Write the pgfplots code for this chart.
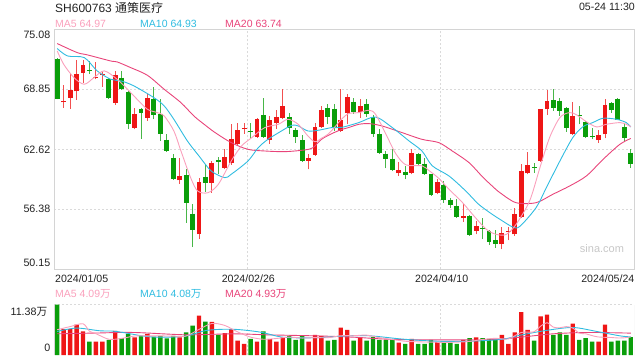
\documentclass[border=0pt]{standalone}
\usepackage{fontspec}
\setmainfont{Liberation Sans}
\newfontfamily\cjk{Noto Sans CJK SC}
\usepackage{pgfplots}
\pgfplotsset{compat=1.18}
\usetikzlibrary{calc}
\definecolor{cred}{RGB}{238,22,22}
\definecolor{cgreen}{RGB}{10,158,10}
\definecolor{ma5}{RGB}{250,160,188}
\definecolor{ma10}{RGB}{48,188,224}
\definecolor{ma20}{RGB}{232,68,122}
\definecolor{gridc}{RGB}{218,218,218}
\definecolor{borderc}{RGB}{212,212,212}
\definecolor{txt}{RGB}{34,34,34}
\begin{document}
\begin{tikzpicture}[x=1pt,y=1pt]
% ---------------- price panel ----------------
\begin{axis}[name=main, at={(0,0)}, anchor=south west, scale only axis,
  width=580pt, height=240pt,
  xmin=-0.5, xmax=89.5, ymin=50.15, ymax=75.08,
  axis line style={borderc, line width=0.8pt},
  xtick={29.5,59.5}, xticklabels={},
  ytick={56.38,62.62,68.85}, yticklabels={},
  major tick length=0pt,
  xmajorgrids, ymajorgrids,
  major grid style={gridc, line width=0.9pt, dash pattern=on 2pt off 2pt},
  unbounded coords=jump]
\coordinate (asw) at (rel axis cs:0,0);
\coordinate (vsw) at (rel axis cs:0,-0.357083);
\coordinate (fsw) at (rel axis cs:-0.093103,-0.377917);
\coordinate (fne) at (rel axis cs:1.010345,1.122083);
% wicks
\addplot[cred!75, line width=1pt] coordinates {
(1,66.94)(1,69.30)(1,nan) (2,66.84)(2,70.41)(2,nan) (3,67.78)(3,71.93)(3,nan) (4,69.54)(4,71.93)(4,nan)
(6,69.89)(6,71.69)(6,nan) (7,69.13)(7,70.76)(7,nan) (9,67.22)(9,70.76)(9,nan) (12,64.69)(12,66.94)(12,nan)
(14,65.56)(14,68.40)(14,nan) (19,59.05)(19,61.75)(19,nan) (22,53.33)(22,59.60)(22,nan) (24,58.11)(24,61.40)(24,nan)
(26,60.54)(26,62.61)(26,nan) (27,60.99)(27,65.28)(27,nan) (28,63.06)(28,65.32)(28,nan) (29,64.24)(29,65.32)(29,nan)
(31,63.83)(31,65.91)(31,nan) (33,63.20)(33,66.08)(33,nan) (34,64.76)(34,66.67)(34,nan) (35,65.73)(35,68.85)(35,nan)
(39,60.54)(39,62.16)(39,nan) (40,61.92)(40,65.39)(40,nan) (41,64.87)(41,67.12)(41,nan) (44,64.45)(44,68.85)(44,nan)
(45,65.21)(45,68.33)(45,nan) (47,65.91)(47,67.81)(47,nan) (53,59.84)(53,61.30)(53,nan) (55,60.02)(55,62.61)(55,nan)
(59,57.94)(59,59.50)(59,nan) (63,55.10)(63,56.97)(63,nan) (65,53.78)(65,55.17)(65,nan) (69,52.22)(69,54.54)(69,nan)
(70,53.16)(70,54.54)(70,nan) (71,53.61)(71,56.55)(71,nan) (72,55.51)(72,61.06)(72,nan) (73,60.02)(73,62.34)(73,nan)
(75,61.33)(75,66.84)(75,nan) (76,66.18)(76,68.78)(76,nan) (80,64.10)(80,67.57)(80,nan) (84,63.31)(84,64.59)(84,nan)
(85,63.76)(85,67.81)(85,nan)};
\addplot[cgreen!75, line width=1pt] coordinates {
(0,67.81)(0,72.14)(0,nan) (5,70.48)(5,71.79)(5,nan) (8,67.88)(8,70.06)(8,nan) (10,68.78)(10,70.76)(10,nan)
(11,64.76)(11,68.68)(11,nan) (13,63.72)(13,66.94)(13,nan) (15,65.73)(15,69.09)(15,nan) (16,63.48)(16,67.81)(16,nan)
(17,62.34)(17,64.24)(17,nan) (18,59.43)(18,62.16)(18,nan) (20,54.99)(20,60.54)(20,nan) (21,52.46)(21,56.97)(21,nan)
(23,58.22)(23,60.95)(23,nan) (25,60.02)(25,61.85)(25,nan) (30,63.83)(30,65.39)(30,nan) (32,63.83)(32,67.91)(32,nan)
(36,64.24)(36,66.43)(36,nan) (37,63.31)(37,64.87)(37,nan) (38,61.33)(38,64.10)(38,nan) (42,65.21)(42,67.36)(42,nan)
(43,64.52)(43,67.29)(43,nan) (46,66.32)(46,67.98)(46,nan) (48,65.97)(48,67.81)(48,nan) (49,63.90)(49,66.18)(49,nan)
(50,62.16)(50,64.69)(50,nan) (51,60.64)(51,62.44)(51,nan) (52,60.36)(52,62.68)(52,nan) (54,59.50)(54,60.88)(54,nan)
(56,60.88)(56,62.27)(56,nan) (57,59.95)(57,61.68)(57,nan) (58,57.76)(58,60.09)(58,nan) (60,57.07)(60,59.32)(60,nan)
(61,56.55)(61,57.59)(61,nan) (62,55.51)(62,57.42)(62,nan) (64,53.61)(64,55.76)(64,nan) (66,53.26)(66,55.44)(66,nan)
(67,52.67)(67,54.20)(67,nan) (68,52.40)(68,54.20)(68,nan) (74,60.19)(74,61.23)(74,nan) (77,66.60)(77,68.85)(77,nan)
(78,66.08)(78,67.98)(78,nan) (79,64.45)(79,67.01)(79,nan) (81,65.21)(81,67.12)(81,nan) (82,63.83)(82,65.56)(82,nan)
(83,63.65)(83,64.87)(83,nan) (86,66.43)(86,67.57)(86,nan) (87,65.63)(87,67.91)(87,nan) (88,63.48)(88,65.39)(88,nan)
(89,60.71)(89,62.61)(89,nan)};
% bodies
\addplot[cred, line width=4.8pt] coordinates {
(1,67.50)(1,67.60)(1,nan) (2,67.98)(2,68.82)(2,nan) (3,68.64)(3,70.48)(3,nan) (4,70.58)(4,71.41)(4,nan)
(6,70.05)(6,70.15)(6,nan) (7,70.30)(7,70.40)(7,nan) (9,67.46)(9,70.37)(9,nan) (12,64.87)(12,66.32)(12,nan)
(14,65.91)(14,67.98)(14,nan) (19,59.39)(19,59.88)(19,nan) (22,53.78)(22,59.25)(22,nan) (24,59.15)(24,61.16)(24,nan)
(26,60.71)(26,61.85)(26,nan) (27,61.23)(27,63.72)(27,nan) (28,63.13)(28,64.66)(28,nan) (29,64.70)(29,64.83)(29,nan)
(31,63.90)(31,65.80)(31,nan) (33,63.58)(33,65.66)(33,nan) (34,65.39)(34,66.01)(34,nan) (35,65.91)(35,67.12)(35,nan)
(39,61.40)(39,61.75)(39,nan) (40,62.03)(40,64.97)(40,nan) (41,64.97)(41,66.74)(41,nan) (44,64.52)(44,65.66)(44,nan)
(45,66.43)(45,68.09)(45,nan) (47,66.53)(47,67.12)(47,nan) (53,60.12)(53,60.50)(53,nan) (55,60.19)(55,62.27)(55,nan)
(59,58.11)(59,59.25)(59,nan) (63,55.52)(63,55.64)(63,nan) (65,54.13)(65,54.65)(65,nan) (69,52.74)(69,53.89)(69,nan)
(70,54.08)(70,54.18)(70,nan) (71,53.78)(71,55.93)(71,nan) (72,55.58)(72,60.36)(72,nan) (73,60.12)(73,60.95)(73,nan)
(75,61.40)(75,66.77)(75,nan) (76,66.77)(76,67.64)(76,nan) (80,64.17)(80,66.08)(80,nan) (84,63.58)(84,64.10)(84,nan)
(85,64.17)(85,67.22)(85,nan)};
\addplot[cgreen, line width=4.8pt] coordinates {
(0,72.04)(0,67.88)(0,nan) (5,70.85)(5,70.75)(5,nan) (8,69.89)(8,67.91)(8,nan) (10,70.06)(10,68.92)(10,nan)
(11,68.61)(11,65.21)(11,nan) (13,66.84)(13,66.36)(13,nan) (15,67.88)(15,66.15)(15,nan) (16,66.32)(16,64.17)(16,nan)
(17,63.62)(17,62.41)(17,nan) (18,61.75)(18,59.50)(18,nan) (20,59.95)(20,57.00)(20,nan) (21,55.93)(21,54.20)(21,nan)
(23,59.77)(23,59.08)(23,nan) (25,61.51)(25,61.26)(25,nan) (30,64.47)(30,64.38)(30,nan) (32,66.18)(32,63.90)(32,nan)
(36,65.97)(36,64.87)(36,nan) (37,64.62)(37,63.93)(37,nan) (38,63.58)(38,61.40)(38,nan) (42,66.94)(42,65.97)(42,nan)
(43,66.84)(43,64.94)(43,nan) (46,67.57)(46,66.53)(46,nan) (48,67.36)(48,66.25)(48,nan) (49,65.97)(49,64.17)(49,nan)
(50,64.17)(50,62.20)(50,nan) (51,62.16)(51,61.57)(51,nan) (52,61.64)(52,60.43)(52,nan) (54,60.29)(54,59.91)(54,nan)
(56,62.16)(56,61.12)(56,nan) (57,61.12)(57,60.09)(57,nan) (58,60.02)(58,57.83)(58,nan) (60,58.91)(60,57.35)(60,nan)
(61,57.32)(61,56.80)(61,nan) (62,56.73)(62,55.62)(62,nan) (64,55.69)(64,53.68)(64,nan) (66,54.42)(66,54.32)(66,nan)
(67,54.13)(67,53.02)(67,nan) (68,53.16)(68,52.74)(68,nan) (74,60.76)(74,60.66)(74,nan) (77,67.71)(77,66.94)(77,nan)
(78,67.64)(78,66.60)(78,nan) (79,66.94)(79,64.80)(79,nan) (81,66.13)(81,66.03)(81,nan) (82,65.46)(82,63.93)(82,nan)
(83,63.95)(83,63.85)(83,nan) (86,67.43)(86,66.67)(86,nan) (87,67.88)(87,65.66)(87,nan) (88,64.94)(88,63.83)(88,nan)
(89,62.27)(89,61.12)(89,nan)};
% moving averages
\addplot[ma20, line width=0.9pt, smooth] coordinates {
(0,73.60)(3.1,72.66)(4.7,72.42)(8.3,71.79)(9.3,71.69)(11.4,71.10)(14,70.30)(16.6,68.85)(19.2,67.46)(21.2,66.08)
(22.8,65.21)(24.5,64.35)(27,63.31)(29.6,62.61)(32.2,62.44)(35.3,62.37)(38.4,62.55)(39.7,62.79)(41,63.65)(42.6,64.24)
(44.2,64.69)(45.2,64.87)(46.8,65.21)(48.4,65.28)(50.4,65.04)(53.5,64.35)(56.6,63.65)(59.2,63.31)(61.3,62.44)(63.9,61.23)
(66,59.75)(67.5,58.80)(68.7,58.11)(71.2,57.07)(74.3,57.07)(76.9,57.94)(79.5,58.80)(82.1,59.84)(84.7,61.57)(87.3,63.13)(89,63.74)};
\addplot[ma10, line width=0.9pt, smooth] coordinates {
(0,73.08)(1.6,72.31)(4.2,72.14)(6.2,70.76)(8.3,69.89)(9.9,69.72)(11.9,69.20)(15,67.98)(16.6,67.12)(18.1,65.73)
(20.2,63.48)(22,61.92)(23.9,60.36)(26,59.67)(27,60.02)(29.6,61.40)(31.2,62.79)(32.7,63.65)(34.8,64.52)(36.4,65.11)
(37.4,65.04)(38.9,64.52)(40.5,64.59)(42.6,64.87)(44.2,64.90)(46.8,65.39)(49.4,65.97)(52,64.87)(54.6,63.48)(56.6,62.44)
(58.2,60.90)(60.8,59.84)(63.4,58.28)(65.4,56.90)(67.5,55.86)(68.7,55.34)(70.7,54.54)(71.8,54.62)(74.3,56.55)(75.9,58.63)
(78,61.40)(80,63.83)(81.6,64.97)(83.1,65.39)(84.7,65.84)(86.8,65.73)(88.3,65.39)(89,64.93)};
\addplot[ma5, line width=0.9pt, smooth] coordinates {
(0,72.83)(1,71.45)(2.6,70.06)(4.2,69.37)(5.7,70.06)(7.3,70.76)(9.3,69.89)(10.9,68.85)(12.4,67.81)(14,66.77)
(15.5,66.43)(16.6,66.08)(18.1,64.52)(19.2,62.44)(20.7,59.67)(21.8,58.28)(23.4,58.11)(25,58.98)(27,61.40)(28.6,62.96)
(30.2,63.83)(32.2,64.87)(34.3,65.21)(35.8,65.73)(37.4,65.21)(38.9,64.00)(40,63.40)(41,63.76)(42,64.17)(43,64.87)
(44,65.66)(45.2,66.32)(46.8,66.43)(48.4,66.67)(49.4,66.25)(51,64.20)(52.5,62.20)(54.1,61.00)(56.6,60.90)(57.7,60.40)
(59.2,59.60)(60.8,58.46)(62.9,57.07)(64.9,55.51)(66.6,54.30)(68.1,53.78)(69.7,53.78)(71.2,54.82)(73.3,57.25)(74.9,60.71)
(76.4,63.83)(78,65.91)(79.5,66.43)(80.6,66.19)(82.1,65.49)(83.7,64.94)(85.2,65.21)(87.3,65.39)(88.3,65.21)(89,64.97)};
\end{axis}
% ---------------- volume panel ----------------
\begin{axis}[at={($(vsw)+(main.south west)-(asw)$)}, anchor=south west, scale only axis,
  width=580pt, height=50.5pt,
  xmin=-0.5, xmax=89.5, ymin=0, ymax=11.38,
  axis line style={draw=none},
  xtick={29.5,59.5}, xticklabels={},
  ytick={11.38}, yticklabels={},
  major tick length=0pt,
  xmajorgrids, ymajorgrids,
  major grid style={gridc, line width=0.9pt, dash pattern=on 2pt off 2pt}]
\draw[borderc, line width=0.8pt] (rel axis cs:0,0) -- (rel axis cs:0,1);
\draw[borderc, line width=0.8pt] (rel axis cs:1,0) -- (rel axis cs:1,1);
\addplot[ybar, bar width=4.4pt, bar shift=0pt, fill=cred, draw=none] coordinates {
(1,5.84)(2,5.84)(3,6.83)(4,5.31)(6,3.03)(7,3.03)(9,5.46)(12,3.95)(14,4.78)(19,3.95)(22,8.88)(24,7.44)
(26,4.93)(27,5.84)(28,3.26)(29,2.50)(31,3.03)(33,3.57)(34,3.03)(35,4.02)(39,3.03)(40,4.55)(41,4.32)(44,6.15)
(45,5.69)(47,4.02)(53,2.81)(55,3.64)(59,2.96)(63,3.41)(65,3.95)(69,4.55)(70,2.50)(71,5.08)(72,9.64)(73,5.69)
(75,8.73)(76,9.10)(80,7.06)(84,3.03)(85,6.83)};
\addplot[ybar, bar width=4.4pt, bar shift=0pt, fill=cgreen, draw=none] coordinates {
(0,11.38)(5,3.03)(8,3.41)(10,3.79)(11,4.78)(13,4.32)(15,4.17)(16,4.32)(17,3.72)(18,4.32)(20,5.08)(21,6.60)
(23,7.51)(25,4.55)(30,3.64)(32,5.31)(36,4.32)(37,3.41)(38,4.32)(42,3.26)(43,3.41)(46,3.26)(48,3.26)(49,4.02)
(50,3.41)(51,3.41)(52,3.41)(54,2.50)(56,2.50)(57,2.50)(58,3.41)(60,2.81)(61,2.81)(62,2.50)(64,3.79)(66,3.79)
(67,3.64)(68,3.64)(74,3.26)(77,4.55)(78,5.08)(79,4.55)(81,3.41)(82,3.79)(83,3.03)(86,3.03)(87,3.26)(88,3.26)(89,4.02)};
\addplot[ma20, line width=0.9pt, smooth] coordinates {
(0,4.78)(6,4.95)(11.8,5.08)(20.1,4.55)(27.4,4.78)(32.5,4.55)(40.5,4.30)(45.9,4.02)(51.1,3.57)(56.3,3.41)
(61.5,3.41)(66.7,3.41)(69.8,3.72)(72.9,4.17)(77,4.78)(82.2,5.08)(89,4.93)};
\addplot[ma10, line width=0.9pt, smooth] coordinates {
(0,5.31)(3,6.07)(6.6,5.46)(9.2,5.31)(14.4,4.10)(19.6,4.20)(23.2,5.54)(27.3,5.80)(31.5,5.16)(35.1,4.00)
(40.3,3.90)(45,4.32)(48.6,4.32)(53.7,3.57)(58.9,3.11)(64.1,3.11)(69.2,3.57)(71.8,4.45)(75.9,5.54)(80,6.20)
(83.7,5.31)(87.3,4.32)(89,4.08)};
\addplot[ma5, line width=0.9pt, smooth] coordinates {
(0,5.70)(2,6.40)(4,7.04)(5,5.37)(6,4.81)(8,3.56)(10,3.74)(12,4.28)(14,4.32)(16,4.31)(18,4.26)(20,4.28)
(22,5.77)(24,7.10)(26,6.66)(28,5.20)(30,4.03)(32,3.55)(34,3.72)(36,4.05)(38,3.82)(40,3.93)(42,3.90)(44,4.34)
(46,4.35)(48,4.48)(50,3.90)(52,3.50)(54,3.10)(56,2.97)(58,2.90)(60,2.84)(62,2.90)(64,3.06)(66,3.50)(68,3.76)
(70,3.62)(72,5.08)(74,5.23)(75,6.48)(76,7.28)(77,6.27)(78,6.14)(79,6.40)(80,6.07)(81,4.93)(82,4.78)(83,4.37)
(84,4.06)(86,3.94)(87,3.84)(88,3.88)(89,4.08)};
\end{axis}
% ---------------- texts ----------------
\begin{scope}[shift={(fsw)}]
\node[anchor=west, inner sep=0, text=txt, font=\fontsize{12}{14}\selectfont] at (55,352.5) {SH600763 {\cjk 通策医疗}};
\node[anchor=east, inner sep=0, text=txt, font=\fontsize{10.6}{12}\selectfont] at (635,352.7) {05-24 11:30};
\begin{scope}[every node/.style={anchor=west, inner sep=0, font=\fontsize{10.5}{12}\selectfont}]
\node[text=ma5] at (55,336) {MA5 64.97};
\node[text=ma10] at (140,336) {MA10 64.93};
\node[text=ma20] at (225,336) {MA20 63.74};
\node[text=ma5] at (55,65.7) {MA5 4.09{\cjk 万}};
\node[text=ma10] at (140,65.7) {MA10 4.08{\cjk 万}};
\node[text=ma20] at (225,65.7) {MA20 4.93{\cjk 万}};
\end{scope}
\begin{scope}[every node/.style={anchor=east, inner sep=0, text=txt, font=\fontsize{10.7}{12}\selectfont}]
\node at (50.5,325) {75.08};
\node at (50.5,270.7) {68.85};
\node at (50.5,210.5) {62.62};
\node at (50.5,150.7) {56.38};
\node at (50.5,97) {50.15};
\node at (47.5,48.3) {11.38{\cjk 万}};
\node at (50.5,11.7) {0};
\end{scope}
\begin{scope}[every node/.style={inner sep=0, text=txt, font=\fontsize{10.6}{12}\selectfont}]
\node[anchor=west] at (55,81.7) {2024/01/05};
\node at (248.3,81.7) {2024/02/26};
\node at (441.7,81.7) {2024/04/10};
\node[anchor=east] at (634.5,81.7) {2024/05/24};
\end{scope}
\node[inner sep=0, text=black!22, font=\fontsize{11}{12}\selectfont] at (602,111) {sina.com};
\end{scope}
\pgfresetboundingbox
\path[use as bounding box] (fsw) rectangle (fne);
\end{tikzpicture}
\end{document}
